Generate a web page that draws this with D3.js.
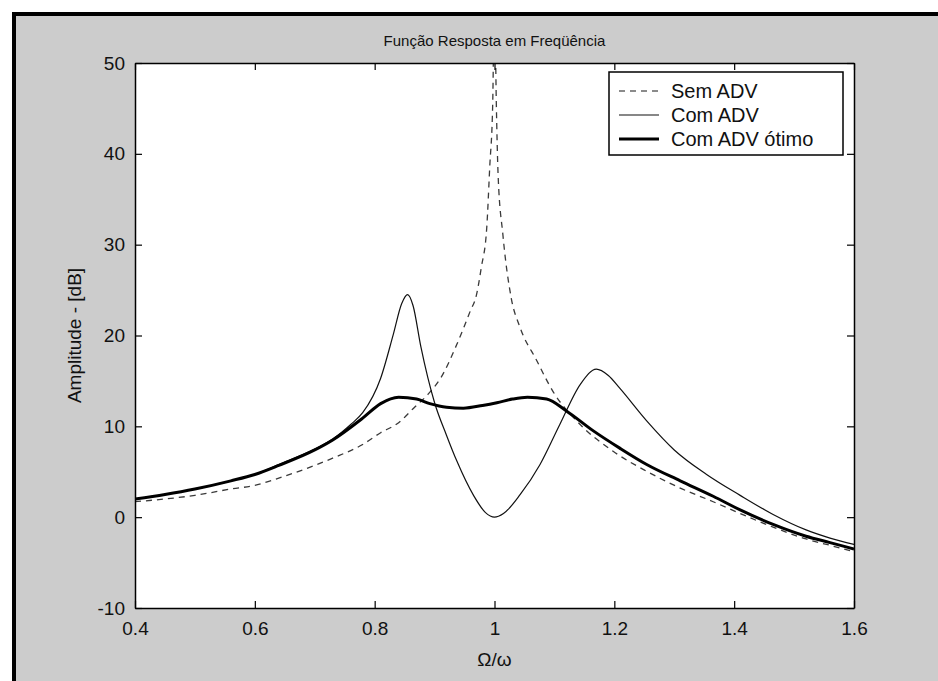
<!DOCTYPE html>
<html>
<head>
<meta charset="utf-8">
<script src="https://cdn.jsdelivr.net/npm/d3@7"></script>
<style>
  html, body { margin: 0; padding: 0; background: #ffffff; }
  svg { display: block; }
  text { font-family: "Liberation Sans", Arial, Helvetica, sans-serif; fill: #111; }
</style>
</head>
<body>
<svg id="chart" width="938" height="681"></svg>
<script>
// ---------- data ----------
const titleText = "Função Resposta em Freqüência";
const xLabel = "Ω/ω";
const yLabel = "Amplitude - [dB]";
const xTicks = [0.4, 0.6, 0.8, 1, 1.2, 1.4, 1.6];
const yTicks = [-10, 0, 10, 20, 30, 40, 50];
const seriesNames = ["Sem ADV", "Com ADV", "Com ADV ótimo"];

// Sem ADV (dashed) : [Ω/ω, dB]
const semADV = [
  [0.40,1.7],[0.45,2.0],[0.50,2.4],[0.56,3.1],[0.60,3.5],[0.64,4.3],[0.70,5.7],[0.73,6.5],
  [0.78,8.0],[0.81,9.3],[0.84,10.4],[0.865,12.0],[0.89,13.6],[0.91,15.3],[0.937,19.0],
  [0.959,22.6],[0.97,24.5],[0.978,27.5],[0.987,31.8],[0.992,38.5],[0.997,45.5],[1.0,58],
  [1.003,45.7],[1.006,37.7],[1.014,31.1],[1.028,24.1],[1.042,21.0],[1.07,17.3],[1.098,13.8],
  [1.143,10.2],[1.198,7.25],[1.254,5.05],[1.31,3.2],[1.365,1.7],[1.41,0.4],[1.465,-1.1],
  [1.52,-2.4],[1.56,-3.1],[1.60,-3.8]
];
// Com ADV (thin solid)
const comADV = [
  [0.40,2.0],[0.45,2.5],[0.50,3.1],[0.56,4.0],[0.60,4.7],[0.64,5.8],[0.70,7.5],[0.73,8.6],
  [0.76,10.2],[0.78,11.5],[0.81,15.3],[0.831,20.1],[0.845,23.5],[0.855,24.5],[0.864,23.3],
  [0.877,18.8],[0.90,12.6],[0.92,9.0],[0.937,6.2],[0.965,2.4],[0.985,0.5],[1.0,0.0],
  [1.015,0.4],[1.043,2.5],[1.076,5.8],[1.109,10.2],[1.143,14.6],[1.17,16.3],[1.19,15.6],
  [1.209,14.2],[1.254,10.6],[1.30,7.4],[1.354,4.7],[1.41,2.4],[1.465,0.3],[1.52,-1.4],
  [1.56,-2.3],[1.60,-3.0]
];
// Com ADV ótimo (thick solid)
const comADVotimo = [
  [0.40,2.0],[0.45,2.5],[0.50,3.1],[0.56,4.0],[0.60,4.7],[0.64,5.7],[0.70,7.4],[0.73,8.5],
  [0.78,10.9],[0.81,12.5],[0.84,13.2],[0.87,13.0],[0.892,12.5],[0.92,12.1],[0.948,12.0],
  [0.98,12.3],[1.004,12.6],[1.03,13.0],[1.055,13.2],[1.087,13.0],[1.12,11.7],[1.165,9.5],
  [1.209,7.6],[1.254,5.8],[1.31,4.0],[1.365,2.3],[1.41,0.8],[1.465,-0.8],[1.52,-2.1],
  [1.56,-2.8],[1.60,-3.5]
];

// ---------- layout ----------
const svg = d3.select("#chart");
const L = 135, R = 854, T = 63, B = 608;

// figure background + frame (only left/top edges visible, as in the cropped original)
svg.append("rect").attr("x", 0).attr("y", 0).attr("width", 938).attr("height", 681).attr("fill", "#ffffff");
svg.append("rect").attr("x", 14).attr("y", 14).attr("width", 1000).attr("height", 800)
  .attr("fill", "#cccccc").attr("stroke", "#000").attr("stroke-width", 4);

const x = d3.scaleLinear().domain([0.4, 1.6]).range([L, R]);
const y = d3.scaleLinear().domain([-10, 50]).range([B, T]);

// plot area
svg.append("rect").attr("x", L).attr("y", T).attr("width", R - L).attr("height", B - T).attr("fill", "#ffffff");

svg.append("defs").append("clipPath").attr("id", "clip")
  .append("rect").attr("x", L).attr("y", T).attr("width", R - L).attr("height", B - T);

const line = d3.line().x(d => x(d[0])).y(d => y(d[1])).curve(d3.curveMonotoneX);

const curves = svg.append("g").attr("clip-path", "url(#clip)");
curves.append("path").datum(semADV).attr("d", line).attr("fill", "none")
  .attr("stroke", "#3a3a3a").attr("stroke-width", 1.3).attr("stroke-dasharray", "6,5");
curves.append("path").datum(comADV).attr("d", line).attr("fill", "none")
  .attr("stroke", "#111").attr("stroke-width", 1.2);
curves.append("path").datum(comADVotimo).attr("d", line).attr("fill", "none")
  .attr("stroke", "#000").attr("stroke-width", 3);

// axes (MATLAB-style inward ticks on all four sides)
const tick = 7;
const fmt = d => String(d);
const axB = svg.append("g").attr("transform", `translate(0,${B})`)
  .call(d3.axisBottom(x).tickValues(xTicks).tickFormat(fmt).tickSizeInner(-tick).tickSizeOuter(0).tickPadding(14));
const axT = svg.append("g").attr("transform", `translate(0,${T})`)
  .call(d3.axisTop(x).tickValues(xTicks).tickFormat("").tickSizeInner(-tick).tickSizeOuter(0));
const axL = svg.append("g").attr("transform", `translate(${L},0)`)
  .call(d3.axisLeft(y).tickValues(yTicks).tickFormat(fmt).tickSizeInner(-tick).tickSizeOuter(0).tickPadding(10));
const axR = svg.append("g").attr("transform", `translate(${R},0)`)
  .call(d3.axisRight(y).tickValues(yTicks).tickFormat("").tickSizeInner(-tick).tickSizeOuter(0));

[axB, axT, axL, axR].forEach(g => {
  g.selectAll(".domain").attr("stroke", "#000").attr("stroke-width", 1.5);
  g.selectAll(".tick line").attr("stroke", "#000").attr("stroke-width", 1.2);
  g.selectAll("text").attr("font-size", 19).attr("fill", "#222")
    .attr("font-family", "'Liberation Sans', Arial, sans-serif");
});

// title and labels
svg.append("text").attr("x", (L + R) / 2).attr("y", 46).attr("text-anchor", "middle")
  .attr("font-size", 15).text(titleText);
svg.append("text").attr("x", (L + R) / 2).attr("y", 666).attr("text-anchor", "middle")
  .attr("font-size", 19).text(xLabel);
svg.append("text").attr("transform", `translate(81,${(T + B) / 2}) rotate(-90)`)
  .attr("text-anchor", "middle").attr("font-size", 19).text(yLabel);

// legend
const lg = svg.append("g");
lg.append("rect").attr("x", 609).attr("y", 72).attr("width", 234).attr("height", 83)
  .attr("fill", "#ffffff").attr("stroke", "#000").attr("stroke-width", 1.5);
const legendStyles = [
  { stroke: "#666", width: 1.3, dash: "6,5" },
  { stroke: "#111", width: 1.2, dash: null },
  { stroke: "#000", width: 3, dash: null }
];
const legendY = [91, 115, 139];
seriesNames.forEach((name, i) => {
  const s = legendStyles[i];
  lg.append("line").attr("x1", 619).attr("x2", 659).attr("y1", legendY[i]).attr("y2", legendY[i])
    .attr("stroke", s.stroke).attr("stroke-width", s.width).attr("stroke-dasharray", s.dash);
  lg.append("text").attr("x", 671).attr("y", legendY[i] + 7).attr("font-size", 20).text(name);
});
</script>
</body>
</html>
